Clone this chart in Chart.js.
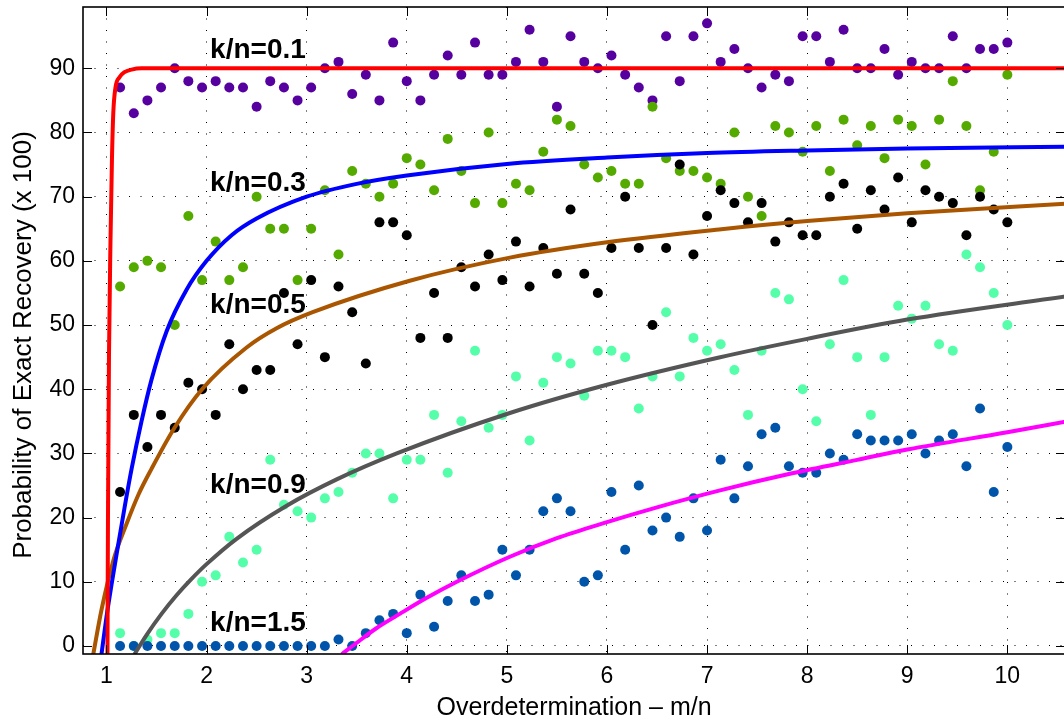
<!DOCTYPE html>
<html><head><meta charset="utf-8">
<script src="https://cdn.jsdelivr.net/npm/chart.js@4.4.0/dist/chart.umd.min.js"></script>
<style>
html,body{margin:0;padding:0;background:#fff;overflow:hidden;width:1064px;height:722px;}
#wrap{position:absolute;left:0;top:0;width:1070px;height:722px;}
</style></head><body>
<div id="wrap"><canvas id="c" width="1070" height="722"></canvas></div>
<script>
// ---------- data ----------
const xTicks = [1,2,3,4,5,6,7,8,9,10];
const yTicks = [0,10,20,30,40,50,60,70,80,90];

// m/n sample positions of the measured points
const mOverN = [1.136,1.273,1.409,1.545,1.682,1.818,1.955,2.091,2.227,2.364,
  2.500,2.636,2.773,2.909,3.045,3.182,3.318,3.455,3.591,3.727,
  3.864,4.000,4.136,4.273,4.409,4.545,4.682,4.818,4.955,5.091,
  5.227,5.364,5.500,5.636,5.773,5.909,6.045,6.182,6.318,6.455,
  6.591,6.727,6.864,7.000,7.136,7.273,7.409,7.545,7.682,7.818,
  7.955,8.091,8.227,8.364,8.500,8.636,8.773,8.909,9.045,9.182,
  9.318,9.455,9.591,9.727,9.864,10.000];

const k01Vals = [87,83,85,87,90,88,87,88,87,87,
  84,88,87,85,87,90,91,86,89,85,
  94,88,85,89,92,89,94,89,89,91,
  96,91,84,95,91,90,92,89,87,85,
  95,88,95,97,91,93,90,87,89,88,
  95,95,91,96,90,90,93,89,91,90,
  90,95,90,93,93,94];
const k03Vals = [56,59,60,59,50,67,57,63,57,59,
  70,65,65,57,65,71,61,74,72,70,
  72,76,75,71,79,74,69,80,69,72,
  71,77,82,81,75,73,74,72,72,84,
  76,74,74,73,72,80,70,67,81,80,
  77,81,74,82,78,81,76,82,81,75,
  82,88,81,71,77,89];
const k05Vals = [24,36,31,36,34,41,40,36,47,40,
  43,43,55,47,57,45,56,52,44,66,
  66,64,48,55,48,59,56,61,57,63,
  56,62,58,68,58,55,62,70,62,50,
  62,75,61,67,71,69,66,69,63,66,
  64,64,70,72,65,71,68,73,66,71,
  70,69,64,70,68,66];
const k09Vals = [2,0,1,2,2,5,10,11,17,13,
  15,29,22,21,20,23,24,27,30,30,
  23,29,29,36,27,35,46,34,36,42,
  32,41,45,44,39,46,46,45,37,42,
  52,42,48,46,47,43,36,46,55,54,
  40,35,47,57,45,36,45,53,51,53,
  47,46,61,59,55,50];
const k15Vals = [0,0,0,0,0,0,0,0,0,0,
  0,0,0,0,0,0,1,0,2,4,
  5,2,8,3,7,11,7,8,15,11,
  15,21,23,21,10,11,24,15,25,18,
  20,17,23,18,29,23,28,33,34,28,
  27,27,30,29,33,32,32,32,33,30,
  32,33,28,37,24,31];

// fitted curves
const fit01X = [1.010,1.015,1.025,1.040,1.055,1.068,1.090,1.130,1.180,1.250,1.350,2,4,7,10.6];
const fit01Y = [-1.3,20,45,63,76,83,87,88.6,89.4,89.8,90,90,90,90,90];
const fit03X = [0.95,1.0,1.05,1.1,1.18,1.25,1.35,1.45,1.6,1.8,2.0,2.25,2.5,3.0,3.5,4.0,5.0,6.0,7.0,8.0,9.0,10.6];
const fit03Y = [-1.3,4.5,9.5,14.2,21.5,27.5,35,41.5,49,55.5,60,64,66.6,70,72,73.3,75.1,76.1,76.8,77.2,77.5,77.8];
const fit05X = [0.868,0.95,1.07,1.2,1.32,1.45,1.68,1.955,2.4,2.7,3.06,4.03,5.03,6.0,7.12,8.0,9.0,10.6];
const fit05Y = [-1.3,5.6,13.4,19.0,23.6,27.6,34,40,46.5,49.5,52,56.9,60.5,62.9,64.9,66.2,67.4,68.9];
const fit09X = [1.28,1.4,1.55,1.7,1.85,2.0,2.3,2.8,3.3,3.9,5.03,6.0,7.12,8.0,9.0,10.6];
const fit09Y = [-1.3,1.7,5.0,7.9,10.45,12.75,16.7,21.85,25.95,30.0,36.3,40.7,44.95,47.85,50.85,54.5];
const fit15X = [3.35,3.5,3.7,3.93,4.2,4.5,5.03,5.5,6.0,6.5,7.12,7.85,8.5,9.0,10.0,10.6];
const fit15Y = [-1.3,0.5,2.8,5,7.5,10,13.9,16.8,19.3,21.6,24.2,26.9,29,30.6,33.3,35.0];

const curveLabels = ['k/n=0.1','k/n=0.3','k/n=0.5','k/n=0.9','k/n=1.5'];

// ---------- layout / style ----------
const FONT = "'Liberation Sans', Arial, Helvetica, sans-serif";
const X_MIN = 0.7655, X_MAX = 10.576, Y_MIN = -1.25, Y_MAX = 99.55;
const labelAnchor = [[2.035,91.6],[2.035,70.9],[2.035,51.9],[2.035,23.8],[2.035,2.3]];

const pts = (xs, ys) => xs.map((v, i) => ({x: v, y: ys[i]}));

const curveSets = [
  {x: fit01X, y: fit01Y, color: '#FF0000'},
  {x: fit03X, y: fit03Y, color: '#0000FF'},
  {x: fit05X, y: fit05Y, color: '#AA5500'},
  {x: fit09X, y: fit09Y, color: '#555555'},
  {x: fit15X, y: fit15Y, color: '#FF00FF'}
];
const dotSets = [
  {v: k15Vals, color: '#0055AA', order: 1},
  {v: k09Vals, color: '#55FFAA', order: 2},
  {v: k05Vals, color: '#000000', order: 3},
  {v: k03Vals, color: '#55AA00', order: 4},
  {v: k01Vals, color: '#55009F', order: 5}
];

const datasets = [];
curveSets.forEach(c => datasets.push({
  data: pts(c.x, c.y), showLine: true, borderColor: c.color, backgroundColor: c.color,
  borderWidth: 4, pointRadius: 0, cubicInterpolationMode: 'monotone', fill: false,
  order: 0, clip: 0
}));
dotSets.forEach(d => datasets.push({
  data: pts(mOverN, d.v), showLine: false, pointRadius: 5, pointBorderWidth: 0,
  pointBackgroundColor: d.color, pointBorderColor: d.color, backgroundColor: d.color,
  borderColor: d.color, order: d.order, clip: false
}));

const decor = {
  id: 'decor',
  afterDatasetsDraw(chart) {
    const {ctx, chartArea: a, scales: {x, y}} = chart;
    ctx.save();
    ctx.strokeStyle = '#000';
    ctx.lineWidth = 1;
    ctx.beginPath();
    xTicks.forEach(v => {
      const px = Math.round(x.getPixelForValue(v)) + 0.5;
      ctx.moveTo(px, a.bottom); ctx.lineTo(px, a.bottom - 9);
      ctx.moveTo(px, a.top); ctx.lineTo(px, a.top + 9);
    });
    yTicks.forEach(v => {
      const py = Math.round(y.getPixelForValue(v)) + 0.5;
      ctx.moveTo(a.left, py); ctx.lineTo(a.left + 9, py);
      ctx.moveTo(a.right, py); ctx.lineTo(a.right - 9, py);
    });
    ctx.stroke();
    ctx.lineWidth = 1.6;
    ctx.strokeRect(a.left, a.top, a.right - a.left, a.bottom - a.top);

    ctx.fillStyle = '#000';
    ctx.font = 'bold 28px ' + FONT;
    ctx.textAlign = 'left';
    ctx.textBaseline = 'alphabetic';
    curveLabels.forEach((t, i) => {
      ctx.fillText(t, x.getPixelForValue(labelAnchor[i][0]), y.getPixelForValue(labelAnchor[i][1]));
    });

    // axis titles
    ctx.font = '25px ' + FONT;
    ctx.textAlign = 'center';
    ctx.fillText('Overdetermination \u2013 m/n', (a.left + 1066) / 2 - 0.5, 715);
    ctx.save();
    ctx.translate(31, 345);
    ctx.rotate(-Math.PI / 2);
    ctx.font = '26px ' + FONT;
    ctx.fillText('Probability of Exact Recovery (x 100)', 0, 0);
    ctx.restore();
    ctx.restore();
  }
};

new Chart(document.getElementById('c'), {
  type: 'scatter',
  data: {datasets},
  options: {
    responsive: false,
    animation: false,
    devicePixelRatio: 1,
    layout: {padding: {top: 7, right: 4, left: 0, bottom: 0}},
    plugins: {legend: {display: false}, tooltip: {enabled: false}},
    scales: {
      x: {
        type: 'linear', min: X_MIN, max: X_MAX,
        afterBuildTicks: s => { s.ticks = xTicks.map(v => ({value: v})); },
        afterFit: s => { s.height = 68; s.paddingLeft = 0; s.paddingRight = 0; },
        grid: {color: '#000', lineWidth: 1, drawTicks: false},
        border: {display: false, dash: [1, 10.5]},
        ticks: {color: '#000', font: {family: FONT, size: 23}, padding: 9, maxRotation: 0, autoSkip: false,
          callback: v => String(v)}
      },
      y: {
        type: 'linear', min: Y_MIN, max: Y_MAX,
        afterBuildTicks: s => { s.ticks = yTicks.map(v => ({value: v})); },
        afterFit: s => { s.width = 83; s.paddingTop = 0; s.paddingBottom = 0; },
        grid: {color: '#000', lineWidth: 1, drawTicks: false},
        border: {display: false, dash: [1, 10.5]},
        ticks: {color: '#000', font: {family: FONT, size: 23}, padding: 8, autoSkip: false,
          callback: v => String(v)}
      }
    }
  },
  plugins: [decor]
});
</script>
</body></html>
